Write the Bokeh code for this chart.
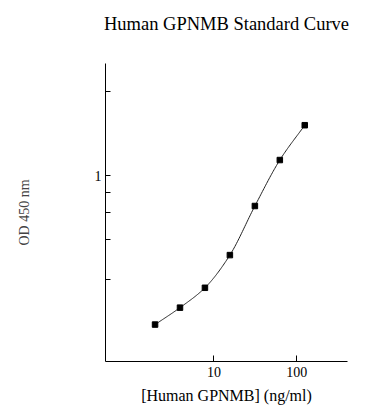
import numpy as np
from bokeh.plotting import figure
from bokeh.models import FixedTicker, CustomJSTickFormatter, Range1d
from bokeh.embed import file_html
from bokeh.resources import INLINE

# Data
conc = [1.95, 3.9, 7.8, 15.6, 31.25, 62.5, 125.0]   # ng/ml
od = [0.293, 0.337, 0.397, 0.52, 0.78, 1.14, 1.52]   # OD 450 nm
x_ticks = [10, 100]
y_ticks = [0.425, 0.59, 0.74, 0.875, 1, 2]
y_labeled = [1]

title_text = "Human GPNMB Standard Curve"
x_label = "[Human GPNMB] (ng/ml)"
y_label = "OD 450 nm"

FONT = "Liberation Serif"

# smooth monotone cubic curve (Fritsch-Carlson) through the data in log-log space
lx = np.log10(np.array(conc))
ly = np.log10(np.array(od))
h = np.diff(lx)
delta = np.diff(ly) / h
m = np.zeros_like(lx)
m[0] = delta[0]
m[-1] = delta[-1]
for i in range(1, len(lx) - 1):
    if delta[i - 1] * delta[i] <= 0:
        m[i] = 0
    else:
        w1 = 2 * h[i] + h[i - 1]
        w2 = h[i] + 2 * h[i - 1]
        m[i] = (w1 + w2) / (w1 / delta[i - 1] + w2 / delta[i])
cx, cy = [], []
for i in range(len(lx) - 1):
    t = np.linspace(0, 1, 30, endpoint=(i == len(lx) - 2))
    h00 = 2 * t**3 - 3 * t**2 + 1
    h10 = t**3 - 2 * t**2 + t
    h01 = -2 * t**3 + 3 * t**2
    h11 = t**3 - t**2
    yy = h00 * ly[i] + h10 * h[i] * m[i] + h01 * ly[i + 1] + h11 * h[i] * m[i + 1]
    xx = lx[i] + t * h[i]
    cx.extend(10 ** xx)
    cy.extend(10 ** yy)

p = figure(
    width=380, height=412,
    x_axis_type="log", y_axis_type="log",
    x_range=Range1d(0.492, 410), y_range=Range1d(0.216, 2.53),
    output_backend="svg", toolbar_location=None,
    min_border_left=105, min_border_right=33, min_border_top=63, min_border_bottom=51,
    title=title_text + "\n",
)
p.outline_line_color = None
p.xgrid.visible = False
p.ygrid.visible = False
p.background_fill_color = "white"
p.border_fill_color = "white"

p.title.text_font = FONT
p.title.text_font_size = "18.5px"
p.title.text_font_style = "normal"
p.title.text_color = "black"
p.title.align = "center"
p.title.standoff = 20

p.line(cx, cy, line_color="#222222", line_width=1)
p.scatter(conc, od, marker="square", size=5.5, fill_color="black", line_color="black")

xa = p.xaxis[0]
xa.ticker = FixedTicker(ticks=x_ticks, minor_ticks=[])
xa.formatter = CustomJSTickFormatter(code="return tick.toFixed(0);")
xa.major_tick_in = 6
xa.major_tick_out = 0
xa.minor_tick_in = 0
xa.minor_tick_out = 0
xa.axis_line_color = "black"
xa.major_tick_line_color = "black"
xa.major_label_text_font = FONT
xa.major_label_text_font_size = "14px"
xa.major_label_text_color = "black"
xa.major_label_standoff = 5
xa.axis_label = x_label
xa.axis_label_text_font = FONT
xa.axis_label_text_font_size = "16px"
xa.axis_label_text_font_style = "normal"
xa.axis_label_text_color = "black"
xa.axis_label_standoff = 7

ya = p.yaxis[0]
ya.ticker = FixedTicker(ticks=y_ticks, minor_ticks=[])
ya.formatter = CustomJSTickFormatter(
    args=dict(lab=y_labeled),
    code="for (const v of lab) { if (Math.abs(tick - v) < 1e-9) return String(v); } return '';")
ya.major_tick_in = 5
ya.major_tick_out = 0
ya.minor_tick_in = 0
ya.minor_tick_out = 0
ya.axis_line_color = "black"
ya.major_tick_line_color = "black"
ya.major_label_text_font = FONT
ya.major_label_text_font_size = "14px"
ya.major_label_text_color = "black"
ya.major_label_standoff = 4
ya.axis_label = y_label
ya.axis_label_text_font = FONT
ya.axis_label_text_font_size = "14px"
ya.axis_label_text_font_style = "normal"
ya.axis_label_text_color = "#444444"
ya.axis_label_standoff = 60

open("out.html", "w").write(file_html(p, INLINE))
